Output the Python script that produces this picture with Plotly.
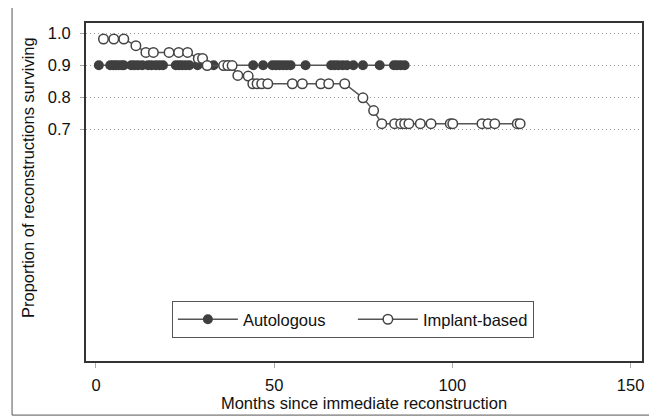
import plotly.graph_objects as go

# Autologous: survival stays at 0.9 (censoring marks)
auto_months = [0.8, 4.0, 4.8, 5.5, 6.3, 7.2, 7.8, 9.9, 10.8, 11.8, 13.0, 14.6, 15.6, 16.8,
               17.8, 18.8, 22.4, 23.3, 24.2, 25.2, 26.2, 28.5, 31.2, 33.0, 37.0, 44.1, 46.9,
               49.5, 50.5, 51.5, 52.5, 53.5, 54.6, 58.8, 66.0, 67.0, 68.0, 69.2, 70.4, 72.2,
               74.9, 79.6, 83.6, 84.5, 85.5, 86.6]
auto_surv = [0.9] * len(auto_months)

# Implant-based
impl_months = [2.1, 5.0, 7.8, 11.2, 14.0, 16.1, 20.5, 23.2, 25.7, 28.7, 29.9, 31.2, 35.8,
               37.0, 38.2, 39.8, 42.7, 44.0, 45.2, 46.5, 48.2, 55.1, 57.9, 63.1, 65.3, 69.8,
               74.9, 77.9, 80.2, 83.8, 85.5, 86.6, 87.8, 91.0, 94.0, 99.4, 100.1, 108.3,
               110.0, 111.9, 118.2, 119.0]
impl_surv = [0.982, 0.982, 0.982, 0.961, 0.94, 0.94, 0.94, 0.94, 0.94, 0.921, 0.921, 0.899,
             0.899, 0.899, 0.899, 0.868, 0.866, 0.842, 0.842, 0.842, 0.842, 0.842, 0.842,
             0.842, 0.842, 0.842, 0.798, 0.758, 0.717, 0.717, 0.717, 0.717, 0.717, 0.717,
             0.717, 0.717, 0.717, 0.717, 0.717, 0.717, 0.717, 0.717]

x_ticks = [0, 50, 100, 150]
y_ticks = [0.7, 0.8, 0.9, 1.0]
y_tick_labels = ["0.7", "0.8", "0.9", "1.0"]

FONT = "Liberation Sans, Arial, sans-serif"
DARK = "#3f3f3f"

fig = go.Figure()
fig.add_trace(go.Scatter(
    x=auto_months, y=auto_surv, mode="lines+markers", name="Autologous",
    line=dict(color="#555555", width=1.5),
    marker=dict(symbol="circle", size=10, color=DARK, line=dict(width=0)),
))
fig.add_trace(go.Scatter(
    x=impl_months, y=impl_surv, mode="lines+markers", name="Implant-based",
    line=dict(color="#555555", width=1.5),
    marker=dict(symbol="circle", size=9.5, color="white", line=dict(width=1.5, color="#444444")),
))

fig.update_layout(
    width=649, height=409,
    margin=dict(l=78, r=15, t=15, b=50),
    paper_bgcolor="white", plot_bgcolor="white",
    font=dict(family=FONT, size=16.5, color="#111111"),
    showlegend=True,
    legend=dict(
        orientation="h", x=0.48, xanchor="center", y=0.068, yanchor="bottom",
        bordercolor="#555555", borderwidth=1, bgcolor="white",
        font=dict(family=FONT, size=16.5, color="#111111"),
        itemwidth=60, entrywidth=105, entrywidthmode="pixels",
    ),
    xaxis=dict(
        range=[-2.8, 153.2], tickvals=x_ticks, ticks="outside", ticklen=5,
        tickcolor="#aaaaaa", showgrid=False, zeroline=False,
        showline=True, linecolor="#333333", linewidth=2, mirror=True,
        tickfont=dict(size=16.5), ticklabelstandoff=3,
        title=dict(text="Months since immediate reconstruction", standoff=0,
                   font=dict(size=16.5)),
    ),
    yaxis=dict(
        range=[-0.025, 1.032], tickvals=y_ticks, ticktext=y_tick_labels,
        ticks="outside", ticklen=4, tickcolor="#aaaaaa",
        showgrid=True, gridcolor="#9a9a9a", griddash="1px,3px", gridwidth=1,
        zeroline=False, showline=True, linecolor="#333333", linewidth=2, mirror=True,
        tickfont=dict(size=16.5), ticklabelstandoff=6,
    ),
    annotations=[dict(
        text="Proportion of reconstructions surviving", textangle=-90,
        xref="paper", yref="paper", x=-0.104, y=0.542, showarrow=False,
        xanchor="center", yanchor="middle",
        font=dict(size=16.5, family=FONT, color="#111111"),
    )],
    shapes=[dict(
        type="rect", xref="paper", yref="paper",
        x0=-0.133, x1=1.0198, y0=-0.16, y1=1.0465,
        line=dict(color="#555555", width=1), fillcolor="rgba(0,0,0,0)", layer="below",
    )],
)

fig.write_html("out.html")
